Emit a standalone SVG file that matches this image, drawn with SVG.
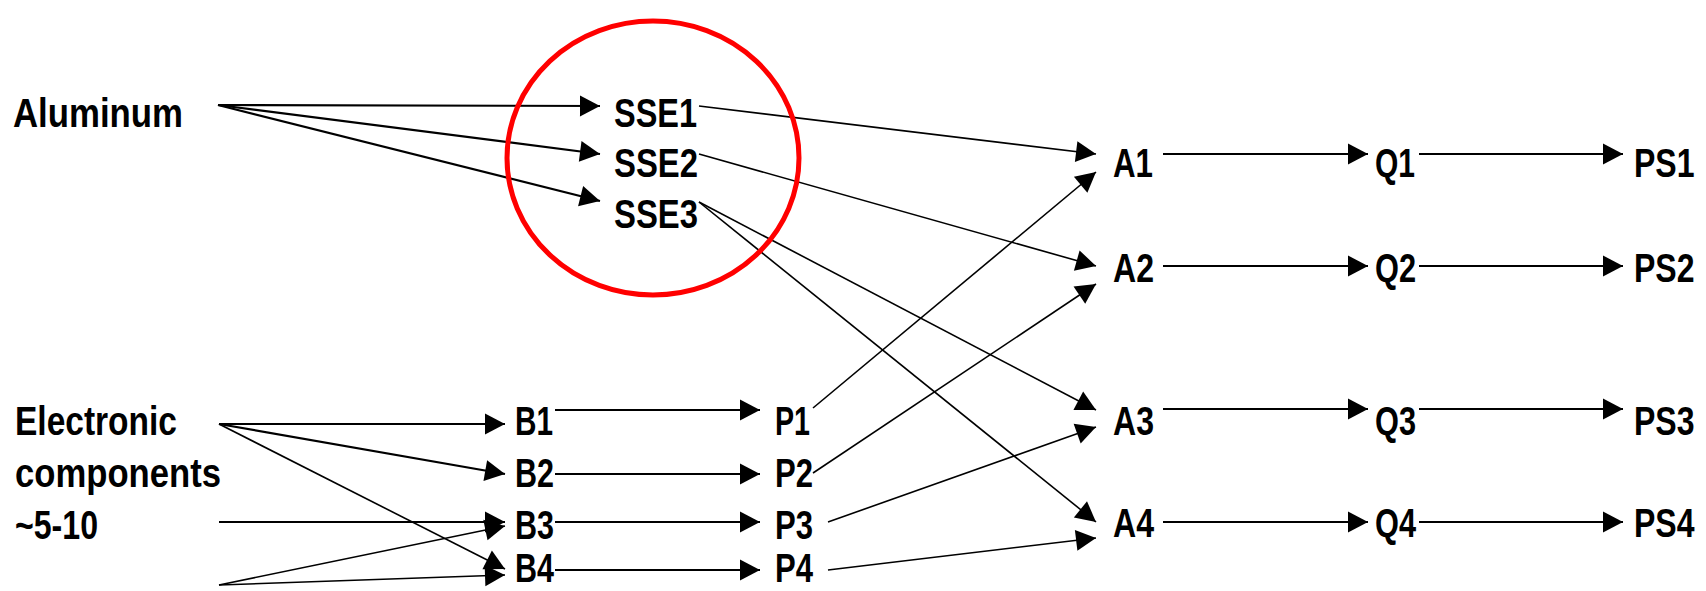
<svg xmlns="http://www.w3.org/2000/svg" width="1706" height="591" viewBox="0 0 1706 591">
<defs>
<marker id="ah" markerUnits="userSpaceOnUse" markerWidth="24" markerHeight="24" viewBox="0 -12 21 24" refX="20" refY="0" orient="auto">
<path d="M0,-10.5 L20,0 L0,10.5 z" fill="#000"/>
</marker>
<style>
text{font-family:"Liberation Sans",Arial,sans-serif;font-weight:bold;font-size:40px;fill:#000}
.c{fill:none;stroke:#000;stroke-width:2.2;marker-end:url(#ah)}
.t{fill:none;stroke:#000;stroke-width:1.6;marker-end:url(#ah)}
.ring{fill:none;stroke:#ff0000;stroke-width:5}
</style>
</defs>
<rect width="1706" height="591" fill="#fff"/>
<g id="connectors">
<path class="c" d="M218,105 L600,106"/>
<path class="c" d="M218,105 L600,154"/>
<path class="c" d="M218,105 L600,201"/>
<path class="t" d="M699,106 L1096,154"/>
<path class="t" d="M699,154 L1096,266"/>
<path class="t" d="M699,202 L1096,410"/>
<path class="t" d="M699,202 L1096,522"/>
<path class="c" d="M1163,154 L1368,154"/>
<path class="c" d="M1419,154 L1623,154"/>
<path class="c" d="M1163,266 L1368,266"/>
<path class="c" d="M1419,266 L1623,266"/>
<path class="c" d="M1163,409 L1368,409"/>
<path class="c" d="M1419,409 L1623,409"/>
<path class="c" d="M1163,522 L1368,522"/>
<path class="c" d="M1419,522 L1623,522"/>
<path class="c" d="M219,424 L505,424"/>
<path class="c" d="M219,424 L505,474"/>
<path class="t" d="M219,424 L505,569"/>
<path class="c" d="M219,522 L505,522"/>
<path class="t" d="M219,585 L505,526"/>
<path class="t" d="M219,585 L505,575"/>
<path class="c" d="M555,410 L760,410"/>
<path class="c" d="M555,474 L760,474"/>
<path class="c" d="M555,522 L760,522"/>
<path class="c" d="M555,570 L760,570"/>
<path class="t" d="M813,408 L1096,172"/>
<path class="t" d="M813,473 L1096,284"/>
<path class="t" d="M828,522 L1096,427"/>
<path class="t" d="M828,570 L1096,538"/>
</g>
<g id="highlight"><ellipse class="ring" cx="653" cy="158" rx="146" ry="137"/></g>
<g id="aluminum"><text x="13" y="127" textLength="170" lengthAdjust="spacingAndGlyphs">Aluminum</text></g>
<g id="electronic"><text x="15" y="435" textLength="162" lengthAdjust="spacingAndGlyphs">Electronic</text><text x="15" y="487" textLength="206" lengthAdjust="spacingAndGlyphs">components</text><text x="15" y="539" textLength="83" lengthAdjust="spacingAndGlyphs">~5-10</text></g>
<g id="sse1"><text x="614" y="127" textLength="83" lengthAdjust="spacingAndGlyphs">SSE1</text></g>
<g id="sse2"><text x="614" y="177" textLength="84" lengthAdjust="spacingAndGlyphs">SSE2</text></g>
<g id="sse3"><text x="614" y="228" textLength="84" lengthAdjust="spacingAndGlyphs">SSE3</text></g>
<g id="a1"><text x="1113" y="177" textLength="40" lengthAdjust="spacingAndGlyphs">A1</text></g>
<g id="a2"><text x="1113" y="282" textLength="41" lengthAdjust="spacingAndGlyphs">A2</text></g>
<g id="a3"><text x="1113" y="435" textLength="41" lengthAdjust="spacingAndGlyphs">A3</text></g>
<g id="a4"><text x="1113" y="537" textLength="41" lengthAdjust="spacingAndGlyphs">A4</text></g>
<g id="q1"><text x="1375" y="177" textLength="40" lengthAdjust="spacingAndGlyphs">Q1</text></g>
<g id="q2"><text x="1375" y="282" textLength="41" lengthAdjust="spacingAndGlyphs">Q2</text></g>
<g id="q3"><text x="1375" y="435" textLength="41" lengthAdjust="spacingAndGlyphs">Q3</text></g>
<g id="q4"><text x="1375" y="537" textLength="41" lengthAdjust="spacingAndGlyphs">Q4</text></g>
<g id="ps1"><text transform="translate(1634,177) scale(0.8,1)">PS1</text></g>
<g id="ps2"><text transform="translate(1634,282) scale(0.8,1)">PS2</text></g>
<g id="ps3"><text transform="translate(1634,435) scale(0.8,1)">PS3</text></g>
<g id="ps4"><text transform="translate(1634,537) scale(0.8,1)">PS4</text></g>
<g id="b1"><text x="515" y="435" textLength="38" lengthAdjust="spacingAndGlyphs">B1</text></g>
<g id="b2"><text x="515" y="487" textLength="39" lengthAdjust="spacingAndGlyphs">B2</text></g>
<g id="b3"><text x="515" y="539" textLength="39" lengthAdjust="spacingAndGlyphs">B3</text></g>
<g id="b4"><text x="515" y="582" textLength="39" lengthAdjust="spacingAndGlyphs">B4</text></g>
<g id="p1"><text x="775" y="435" textLength="35" lengthAdjust="spacingAndGlyphs">P1</text></g>
<g id="p2"><text x="775" y="487" textLength="38" lengthAdjust="spacingAndGlyphs">P2</text></g>
<g id="p3"><text x="775" y="539" textLength="38" lengthAdjust="spacingAndGlyphs">P3</text></g>
<g id="p4"><text x="775" y="582" textLength="38" lengthAdjust="spacingAndGlyphs">P4</text></g>
</svg>
